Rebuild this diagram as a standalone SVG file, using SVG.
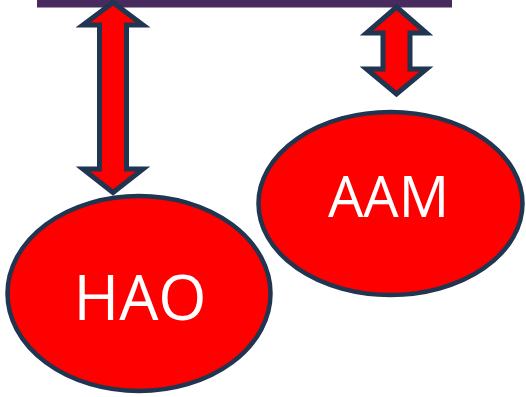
<svg xmlns="http://www.w3.org/2000/svg" width="526" height="397" viewBox="0 0 526 397">
<style>
.arrow{fill:#ff0000;stroke:#1f3550;stroke-width:5;stroke-linejoin:miter}
.node{fill:#ff0000;stroke:#1f3550;stroke-width:4.5}
.lbl{font-family:"Open Sans","Noto Sans",sans-serif;fill:#ffffff;text-anchor:middle}
</style>
<rect x="37" y="0" width="415" height="7.5" fill="#482a5f"/>
<g id="connectors">
<path class="arrow" d="M113,2.5 L143,25 L126.5,25 L126.5,169 L143,169 L113,192.5 L83,169 L99.5,169 L99.5,25 L83,25 Z"/>
<path class="arrow" d="M396.5,7 L426.5,33 L410,33 L410,69 L426.5,69 L396.5,94 L366.5,69 L383,69 L383,33 L366.5,33 Z"/>
</g>
<g id="hao">
<ellipse class="node" cx="139" cy="293.5" rx="131.5" ry="97.5"/>
<text class="lbl" x="140" y="320" font-size="62">HAO</text>
</g>
<g id="aam">
<ellipse class="node" cx="390.5" cy="203.5" rx="132" ry="91.5"/>
<text class="lbl" x="388.5" y="217" font-size="56">AAM</text>
</g>
</svg>
